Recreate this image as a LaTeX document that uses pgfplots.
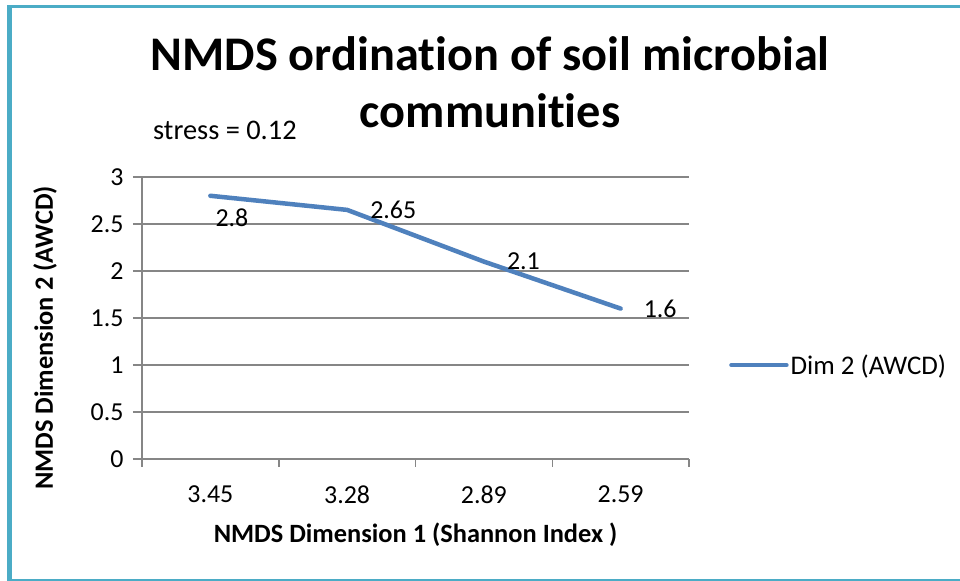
\documentclass[border=0pt]{standalone}
\usepackage{pgfplots}
\pgfplotsset{compat=1.18}
\usepackage{fontspec}
\setmainfont{Carlito}[Ligatures={NoCommon}]
\definecolor{lineblue}{HTML}{4F81BD}
\definecolor{gridgray}{HTML}{868686}
\definecolor{frameblue}{HTML}{4BACC6}
\begin{document}
\begin{tikzpicture}[x=1bp,y=1bp]
\path[use as bounding box] (0,0) rectangle (960,581);
\fill[white] (0,0) rectangle (960,581);
\draw[frameblue, line width=3bp] (7,574) -- (960,574);
\draw[frameblue, line width=5bp] (9.5,0) -- (9.5,575.5);
\draw[frameblue, line width=2bp] (7,1) -- (960,1);
\node[font=\bfseries\fontsize{48.5}{58}\selectfont, anchor=base] at (490,510) {NMDS ordination of soil microbial};
\node[font=\bfseries\fontsize{48.5}{58}\selectfont, anchor=base] at (490,453) {communities};
\node[font=\fontsize{28.5}{34}\selectfont, anchor=base west, inner sep=0] at (153,441) {stress = 0.12};
\begin{axis}[
  at={(142bp,122bp)}, anchor=south west, scale only axis,
  width=547bp, height=282bp,
  xmin=-0.5, xmax=3.5, ymin=0, ymax=3,
  xtick={0,1,2,3}, xticklabels={3.45,3.28,2.89,2.59},
  minor xtick={-0.5,0.5,1.5,2.5,3.5},
  ytick={0,0.5,1,1.5,2,2.5,3},
  ymajorgrids,
  major grid style={gridgray, line width=1.5bp},
  axis lines*=left,
  axis line style={gridgray, line width=1.5bp},
  tick align=outside,
  major tick length=9bp,
  minor tick length=8bp,
  every major x tick/.append style={draw=none},
  every minor x tick/.append style={gridgray, line width=1.5bp},
  every major y tick/.append style={gridgray, line width=1.5bp},
  /pgf/number format/assume math mode=true,
  tick label style={font=\fontsize{26}{31}\selectfont, text=black},
  xticklabel style={yshift=-14bp},
  yticklabel style={xshift=-6bp},
  xlabel={\bfseries NMDS Dimension 1 (Shannon Index )},
  ylabel={\bfseries NMDS Dimension 2 (AWCD)},
  label style={font=\bfseries\fontsize{26.5}{32}\selectfont},
  xlabel style={at={(axis description cs:0.5,-0.27)}, anchor=center},
  ylabel style={at={(axis description cs:-0.1773,0.429)}, anchor=center},
  legend style={at={(1.0731,0.333)}, anchor=west, draw=none, fill=none,
    font=\fontsize{27}{32}\selectfont, inner sep=0pt,
    /tikz/every odd column/.append style={column sep=0bp}},
  legend image code/.code={\draw[#1, line cap=round] (0bp,0bp) -- (55bp,0bp);},
  clip=false,
]
\addplot[lineblue, line width=4.5bp, line cap=round, line join=round] coordinates {(0,2.8) (1,2.65) (2,2.1) (3,1.6)};
\addlegendentry{Dim 2 (AWCD)}
\addplot[draw=none, forget plot, nodes near coords,
  nodes near coords style={anchor=north west, inner sep=0pt, xshift=5bp, yshift=-13bp, font=\fontsize{26}{31}\selectfont, text=black}]
  coordinates {(0,2.8)};
\addplot[draw=none, forget plot, nodes near coords,
  nodes near coords style={anchor=west, inner sep=0pt, xshift=23bp, font=\fontsize{26}{31}\selectfont, text=black}]
  coordinates {(1,2.65) (2,2.1) (3,1.6)};
\end{axis}
\end{tikzpicture}
\end{document}
